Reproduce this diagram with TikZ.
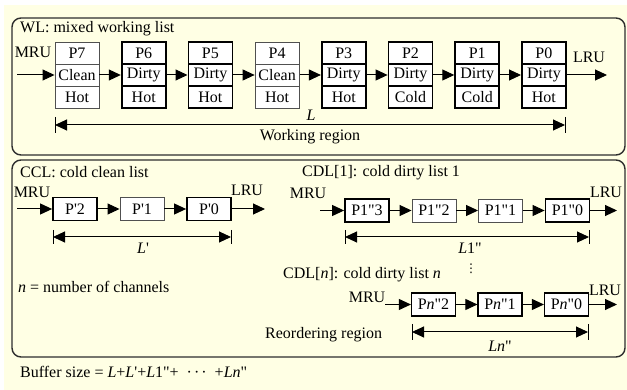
\documentclass[tikz,border=0pt]{standalone}
\usepackage{fontspec}
\newfontfamily\listfont{Liberation Serif}
\newfontfamily\vdotsfont{DejaVu Sans}
\usetikzlibrary{arrows.meta}
\definecolor{ListPaper}{HTML}{FFFFE4}
\definecolor{ListFrame}{HTML}{2E2E2E}
\definecolor{CleanEdge}{HTML}{505050}
\tikzset{
  txt/.style={inner sep=0pt},
  titletxt/.style={inner sep=0pt,anchor=west},
  page/.style={draw,fill=white,minimum width=44pt,minimum height=22pt,inner sep=0pt},
  cleanpg/.style={page,draw=CleanEdge,line width=0.9pt},
  dirtypg/.style={page,draw=black,line width=1.8pt},
  coldpg/.style={page,draw=black,line width=1.2pt,minimum height=23pt},
  linkarr/.style={-{Triangle[length=12pt,width=11pt]},line width=1pt},
  dimarr/.style={{Triangle[length=12pt,width=11pt]}-{Triangle[length=12pt,width=11pt]},line width=1pt},
  dimtick/.style={line width=1pt},
  panel/.style={draw=ListFrame,line width=1.4pt,rounded corners=9pt}
}

\begin{document}
\begin{tikzpicture}[x=1pt,y=-1pt,font=\listfont\fontsize{16}{19}\selectfont]
  \fill[white] (0,0) rectangle (627,390);
  \fill[ListPaper] (4,5) rectangle (627,390);
  \useasboundingbox (0,0) rectangle (627,390);

  % working list
  \draw[panel] (12,18) rectangle (625,155);
  \node[titletxt] (wltitle) at (20,29) {WL: mixed working list};

  \foreach \nm/\st/\tp/\sty [count=\k from 0] in
    {7/Clean/Hot/cleanpg,6/Dirty/Hot/dirtypg,5/Dirty/Hot/dirtypg,4/Clean/Hot/cleanpg,
     3/Dirty/Hot/dirtypg,2/Dirty/Cold/dirtypg,1/Dirty/Cold/dirtypg,0/Dirty/Hot/dirtypg} {
    \node[\sty] (p\nm t) at ({77+66.7*\k},53) {P\nm};
    \node[\sty] (p\nm m) at ({77+66.7*\k},75) {\st};
    \node[\sty] (p\nm b) at ({77+66.7*\k},97) {\tp};
  }
  \foreach \a/\b in {7/6,6/5,5/4,4/3,3/2,2/1,1/0}
    \draw[linkarr] (p\a m) -- (p\b m);

  \node[txt] (wlmru) at (33,52) {MRU};
  \coordinate (wlin) at (17,75);
  \draw[linkarr] (wlin) -- (p7m);
  \node[txt] (wllru) at (589,57) {LRU};
  \coordinate (wlout) at (607,75);
  \draw[linkarr] (p0m) -- (wlout);

  \coordinate (wlL) at (55,125);
  \coordinate (wlR) at (565,125);
  \draw[dimarr] (wlL) -- (wlR);
  \draw[dimtick] ([yshift=8pt]wlL) -- ([yshift=-8pt]wlL);
  \draw[dimtick] ([yshift=8pt]wlR) -- ([yshift=-8pt]wlR);
  \node[txt] (wllen) at (311,115) {\textit{L}};
  \node[txt] (wlreg) at (310,137) {Working region};

  % reordering region
  \draw[panel] (12,160) rectangle (625,357);

  % cold clean list
  \node[titletxt] (ccltitle) at (20,172) {CCL: cold clean list};
  \node[txt] (cclmru) at (32,192) {MRU};
  \node[dirtypg,minimum height=23pt] (c2) at (75,209) {P'2};
  \node[cleanpg,minimum height=23pt] (c1) at (142,209) {P'1};
  \node[dirtypg,minimum height=23pt] (c0) at (209,209) {P'0};
  \coordinate (cclin) at (17,209);
  \coordinate (cclout) at (265,209);
  \draw[linkarr] (cclin) -- (c2);
  \draw[linkarr] (c2) -- (c1);
  \draw[linkarr] (c1) -- (c0);
  \draw[linkarr] (c0) -- (cclout);
  \node[txt] (ccllru) at (247,190) {LRU};

  \coordinate (cclL) at (53,237);
  \coordinate (cclR) at (231,237);
  \draw[dimarr] (cclL) -- (cclR);
  \draw[dimtick] ([yshift=7pt]cclL) -- ([yshift=-7pt]cclL);
  \draw[dimtick] ([yshift=7pt]cclR) -- ([yshift=-7pt]cclR);
  \node[txt] (ccllen) at (143,248) {\textit{L}'};

  \node[txt,anchor=west] (chnote) at (18,287) {\textit{n} = number of channels};

  % cold dirty list 1
  \node[titletxt] (cdatitle) at (302,173) {CDL[1]: cold dirty list 1};
  \node[txt] (cdamru) at (308,193) {MRU};
  \node[dirtypg,minimum height=23pt] (d3) at (367,210.5) {P1"3};
  \node[cleanpg,minimum height=23pt] (d2) at (434,210.5) {P1"2};
  \node[cleanpg,minimum height=23pt] (d1) at (500.5,210.5) {P1"1};
  \node[dirtypg,minimum height=23pt] (d0) at (567.5,210.5) {P1"0};
  \coordinate (cdain) at (320,210.5);
  \coordinate (cdaout) at (617,210.5);
  \draw[linkarr] (cdain) -- (d3);
  \draw[linkarr] (d3) -- (d2);
  \draw[linkarr] (d2) -- (d1);
  \draw[linkarr] (d1) -- (d0);
  \draw[linkarr] (d0) -- (cdaout);
  \node[txt] (cdalru) at (606,192) {LRU};

  \coordinate (cdaL) at (345,237);
  \coordinate (cdaR) at (589,237);
  \draw[dimarr] (cdaL) -- (cdaR);
  \draw[dimtick] ([yshift=7pt]cdaL) -- ([yshift=-7pt]cdaL);
  \draw[dimtick] ([yshift=7pt]cdaR) -- ([yshift=-7pt]cdaR);
  \node[txt] (cdalen) at (470,248) {\textit{L}1"};

  % cold dirty list n
  \node[titletxt] (cdntitle) at (283,275) {CDL[\textit{n}]: cold dirty list \textit{n}};
  \node[txt] (cdnvdots) at (471,269) {\vdotsfont\fontsize{12}{13}\selectfont ⋮};
  \node[txt] (cdnmru) at (367,297) {MRU};
  \node[coldpg] (e2) at (433.5,304.5) {P\textit{n}"2};
  \node[coldpg] (e1) at (500,304.5) {P\textit{n}"1};
  \node[coldpg] (e0) at (566.5,304.5) {P\textit{n}"0};
  \coordinate (cdnin) at (385,304.5);
  \coordinate (cdnout) at (617,304.5);
  \draw[linkarr] (cdnin) -- (e2);
  \draw[linkarr] (e2) -- (e1);
  \draw[linkarr] (e1) -- (e0);
  \draw[linkarr] (e0) -- (cdnout);
  \node[txt] (cdnlru) at (605,290) {LRU};

  \coordinate (cdnL) at (412,332);
  \coordinate (cdnR) at (588,332);
  \draw[dimarr] (cdnL) -- (cdnR);
  \draw[dimtick] ([yshift=8pt]cdnL) -- ([yshift=-8pt]cdnL);
  \draw[dimtick] ([yshift=8pt]cdnR) -- ([yshift=-8pt]cdnR);
  \node[txt] (cdnlen) at (500,346) {\textit{Ln}"};

  \node[txt,anchor=west] (reorder) at (265,335) {Reordering region};

  \node[txt,anchor=west] (bufsize) at (20,372)
    {Buffer size = \textit{L}+\textit{L}'+\textit{L}1"+ \ ·\hspace{2pt}·\hspace{2pt}· \ +\textit{Ln}"};
\end{tikzpicture}
\end{document}
